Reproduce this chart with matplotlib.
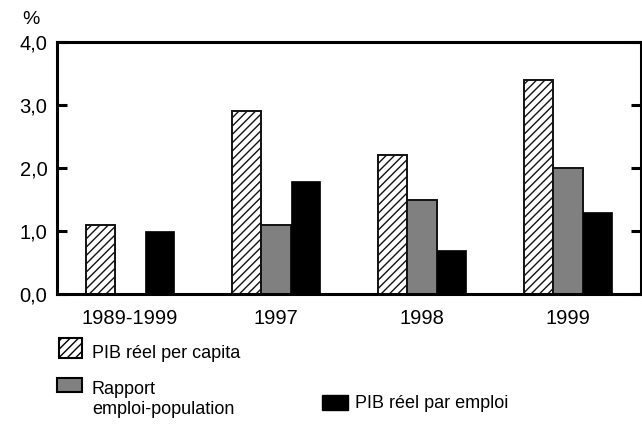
import matplotlib.pyplot as plt
from matplotlib.patches import Rectangle
import numpy as np

plt.rcParams['font.family'] = ['Liberation Sans', 'DejaVu Sans']

categories = ["1989-1999", "1997", "1998", "1999"]
pib_capita = [1.1, 2.9, 2.2, 3.4]
rapport_emploi = [np.nan, 1.1, 1.5, 2.0]
pib_emploi = [1.0, 1.8, 0.7, 1.3]
yticks = [0.0, 1.0, 2.0, 3.0, 4.0]
ytick_labels = ["0,0", "1,0", "2,0", "3,0", "4,0"]

W, H = 642, 426
fig = plt.figure(figsize=(W / 100, H / 100), dpi=100)
ax = fig.add_axes([57 / W, 1 - 294 / H, 584 / W, 252 / H])

x = np.arange(len(categories))
w = 0.2
plt.rcParams['hatch.linewidth'] = 1.0
ax.bar(x - w, pib_capita, w, facecolor='white', edgecolor='#111111',
       hatch='////', linewidth=1.4)
ax.bar(x, rapport_emploi, w, color='#808080', edgecolor='#111111', linewidth=1.4)
ax.bar(x + w, pib_emploi, w, color='black', edgecolor='black', linewidth=0.5)

ax.set_xlim(-0.5, 3.5)
ax.set_ylim(0, 4.0)
ax.set_xticks(x)
ax.set_xticklabels(categories, fontsize=14.5)
ax.set_yticks(yticks)
ax.set_yticklabels(ytick_labels, fontsize=14.5)
ax.tick_params(axis='x', length=0, pad=11)
ax.tick_params(axis='y', direction='in', length=7, width=2.2, pad=7,
               right=True)
for s in ax.spines.values():
    s.set_linewidth(2.2)

fig.text(31 / W, 1 - 20 / H, "%", fontsize=14, ha='center', va='center')

# legend drawn by hand
def px_rect(x0, y0, x1, y1, **kw):
    r = Rectangle((x0 / W, 1 - y1 / H), (x1 - x0) / W, (y1 - y0) / H,
                  transform=fig.transFigure, **kw)
    fig.add_artist(r)

px_rect(59, 338, 82, 358, facecolor='white', edgecolor='black',
        hatch='////', linewidth=1.5)
px_rect(57, 378, 82, 392, facecolor='#808080', edgecolor='black', linewidth=1.5)
px_rect(322, 395, 348, 410, facecolor='black', edgecolor='black', linewidth=1)

fig.text(92 / W, 1 - 353 / H, "PIB réel per capita", fontsize=13, va='center')
fig.text(92 / W, 1 - 389 / H, "Rapport", fontsize=13, va='center')
fig.text(92 / W, 1 - 410 / H, "emploi-population", fontsize=13, va='center')
fig.text(355 / W, 1 - 404 / H, "PIB réel par emploi", fontsize=13, va='center')

fig.savefig("out.png", dpi=100)
